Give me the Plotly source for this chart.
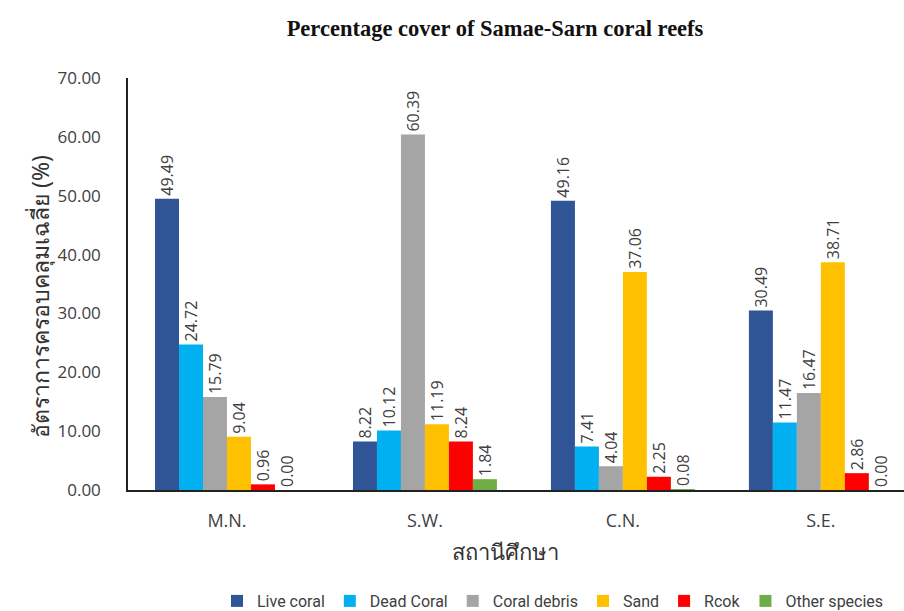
import plotly.graph_objects as go

stations = ["M.N.", "S.W.", "C.N.", "S.E."]

live_coral = [49.49, 8.22, 49.16, 30.49]
dead_coral = [24.72, 10.12, 7.41, 11.47]
coral_debris = [15.79, 60.39, 4.04, 16.47]
sand = [9.04, 11.19, 37.06, 38.71]
rock = [0.96, 8.24, 2.25, 2.86]
other_species = [0.00, 1.84, 0.08, 0.00]

series_names = ["Live coral", "Dead Coral", "Coral debris", "Sand", "Rcok", "Other species"]
series_values = [live_coral, dead_coral, coral_debris, sand, rock, other_species]
series_colors = ["#2F5597", "#00B0F0", "#A5A5A5", "#FFC000", "#FF0000", "#70AD47"]

y_ticks = [0, 10, 20, 30, 40, 50, 60, 70]

W, H = 904, 611
L, R, T, B = 128, 0, 78, 121
PH = H - T - B

sans = "Open Sans, Noto Sans, sans-serif"
label_font = dict(family=sans, size=16, color="#404040")

fig = go.Figure()
for name, vals, col in zip(series_names, series_values, series_colors):
    fig.add_trace(go.Bar(
        name=name,
        x=stations,
        y=vals,
        marker=dict(color=col, line=dict(width=0)),
        text=[f"{v:.2f}\u00a0" for v in vals],
        textposition="outside",
        textangle=-90,
        textfont=label_font,
        constraintext="none",
        cliponaxis=False,
    ))

fig.update_layout(
    width=W,
    height=H,
    margin=dict(l=L, r=R, t=T, b=B, autoexpand=False),
    paper_bgcolor="white",
    plot_bgcolor="white",
    barmode="group",
    bargap=0.273,
    bargroupgap=0,
    title=dict(
        text="<b>Percentage cover of Samae-Sarn coral reefs</b>",
        font=dict(family="Liberation Serif, Times New Roman, serif", size=22.5, color="#111111"),
        x=495 / W,
        xanchor="center",
        xref="container",
        y=1 - 28 / H,
        yref="container",
        yanchor="middle",
    ),
    xaxis=dict(
        range=[-0.5, 3.42],
        showline=True,
        linecolor="#222222",
        linewidth=1.5,
        ticks="",
        showgrid=False,
        ticklabelstandoff=14,
        tickfont=dict(family=sans, size=18, color="#404040"),
    ),
    yaxis=dict(
        range=[0, 70],
        tickvals=y_ticks,
        ticktext=[f"{v:.2f}" for v in y_ticks],
        showline=True,
        linecolor="#222222",
        linewidth=1.5,
        ticks="",
        showgrid=False,
        zeroline=False,
        ticklabelstandoff=22,
        tickfont=dict(family=sans, size=17, color="#404040"),
    ),
    legend=dict(
        orientation="h",
        x=(553 - L) / (W - L),
        xanchor="center",
        y=(490 - 601) / PH,
        yanchor="middle",
        font=dict(family="Roboto, Open Sans, sans-serif", size=16, color="#404040"),
        itemwidth=30,
        tracegroupgap=0,
    ),
    annotations=[
        dict(
            text="สถานีศึกษา",
            xref="paper", yref="paper",
            x=(505 - L) / (W - L), y=(490 - 551) / PH,
            xanchor="center", yanchor="middle",
            showarrow=False,
            font=dict(family="Noto Sans, sans-serif", size=22, color="#333333"),
        ),
        dict(
            text="อัตราการครอบคลุมเฉลี่ย (%)",
            xref="paper", yref="paper",
            x=(40 - L) / (W - L), y=(490 - 297) / PH,
            xanchor="center", yanchor="middle",
            textangle=-90,
            showarrow=False,
            font=dict(family="Noto Sans, sans-serif", size=23, color="#333333"),
        ),
    ],
)

fig.write_html("out.html")
